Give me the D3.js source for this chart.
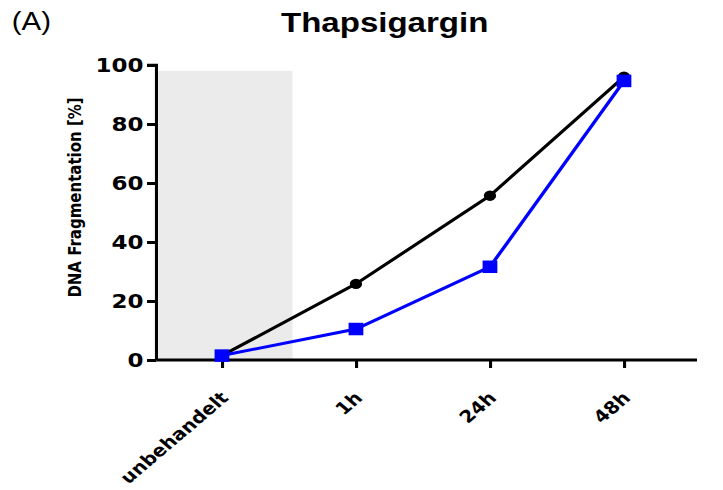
<!DOCTYPE html>
<html>
<head>
<meta charset="utf-8">
<script src="https://cdn.jsdelivr.net/npm/d3@7"></script>
<style>
  html, body { margin: 0; padding: 0; background: #fff; }
</style>
</head>
<body>
<svg id="chart" width="723" height="490"></svg>
<script>
// Time points and DNA fragmentation (%) for the two series
const categories = ["unbehandelt", "1h", "24h", "48h"];
const blackSeries = [1.5, 25.8, 55.7, 96.0];
const blueSeries = [1.5, 10.5, 31.6, 94.6];
const yTicks = [0, 20, 40, 60, 80, 100];
const shadedTop = 98; // upper edge of the untreated background band

const ARIAL = "'Liberation Sans', Arial, sans-serif";
const WIDE = "'DejaVu Sans', Verdana, sans-serif";

// the figure is laid out in a narrower frame and widened horizontally
const sx = 1.18;
const svg = d3.select("#chart");
const root = svg.append("g").attr("transform", `scale(${sx},1)`);

const axisLeftX = 132.6, axisRightX = 590.7, yTop = 65, yBottom = 360;

const x = d3.scalePoint().domain(categories).range([188.1, 528.8]);
const y = d3.scaleLinear().domain([0, 100]).range([yBottom, yTop]);

// grey band behind the untreated group
root.append("rect")
  .attr("x", axisLeftX)
  .attr("y", y(shadedTop))
  .attr("width", (x(categories[0]) + x(categories[1])) / 2 + 3 - axisLeftX)
  .attr("height", y(0) - y(shadedTop))
  .attr("fill", "#ebebeb");

// titles
root.append("text").attr("x", 10).attr("y", 30)
  .attr("font-family", ARIAL).attr("font-size", 25).attr("fill", "#000").text("(A)");
root.append("text").attr("x", 326).attr("y", 32)
  .attr("text-anchor", "middle").attr("font-family", ARIAL)
  .attr("font-size", 28).attr("font-weight", "bold").attr("fill", "#000")
  .text("Thapsigargin");

// y axis
const yAxis = root.append("g").attr("transform", `translate(${axisLeftX},0)`)
  .call(d3.axisLeft(y).tickValues(yTicks).tickSize(8).tickPadding(3));
yAxis.select(".domain").attr("stroke", "#000").attr("stroke-width", 2.6)
  .attr("d", `M-8,${yTop}H0V${yBottom}`);
yAxis.selectAll(".tick line").attr("stroke", "#000").attr("stroke-width", 3);
yAxis.selectAll(".tick text")
  .attr("font-family", WIDE).attr("font-size", 19.5).attr("font-weight", "bold")
  .attr("fill", "#000");

root.append("text")
  .attr("transform", `translate(68.6,${(yTop + yBottom) / 2 - 15}) rotate(-90)`)
  .attr("text-anchor", "middle").attr("font-family", WIDE)
  .attr("font-size", 15).attr("font-weight", "bold").attr("fill", "#000")
  .text("DNA Fragmentation [%]");

// x axis
const xAxis = root.append("g").attr("transform", `translate(0,${yBottom})`)
  .call(d3.axisBottom(x).tickSize(8).tickPadding(0));
xAxis.select(".domain").attr("stroke", "#000").attr("stroke-width", 3)
  .attr("d", `M${axisLeftX},0H${axisRightX}`);
xAxis.selectAll(".tick line").attr("stroke", "#000").attr("stroke-width", 2.6);
xAxis.selectAll(".tick text")
  .attr("font-family", WIDE).attr("font-size", 17).attr("font-weight", "bold")
  .attr("fill", "#000")
  .attr("text-anchor", "end")
  .attr("y", 0).attr("dy", 0)
  .attr("transform", "translate(6,39) rotate(-45)");

// series lines
const line = d3.line().x((d, i) => x(categories[i])).y(d => y(d));
root.append("path").datum(blackSeries).attr("d", line)
  .attr("fill", "none").attr("stroke", "#000").attr("stroke-width", 3);
root.append("path").datum(blueSeries).attr("d", line)
  .attr("fill", "none").attr("stroke", "#0000ff").attr("stroke-width", 3);

// markers
root.append("g").selectAll("circle").data(blackSeries).join("circle")
  .attr("cx", (d, i) => x(categories[i])).attr("cy", d => y(d))
  .attr("r", 5.2).attr("fill", "#000");
const sq = 12.5;
root.append("g").selectAll("rect").data(blueSeries).join("rect")
  .attr("x", (d, i) => x(categories[i]) - sq / 2).attr("y", d => y(d) - sq / 2)
  .attr("width", sq).attr("height", sq).attr("fill", "#0000ff");
</script>
</body>
</html>
